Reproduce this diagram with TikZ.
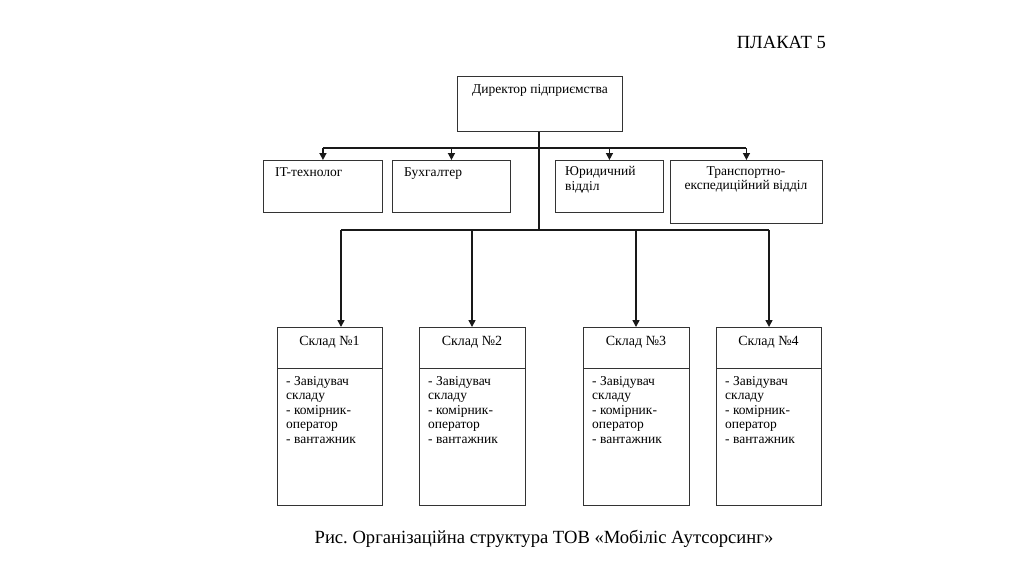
\documentclass[tikz,border=0pt]{standalone}
\usepackage{fontspec}
\setmainfont{Liberation Serif}
\usetikzlibrary{arrows.meta,calc}
\frenchspacing

\begin{document}
\begin{tikzpicture}[
  x=1pt, y=-1pt,
  box/.style={
    draw=black!80,
    line width=0.9pt,
    inner sep=0pt,
    anchor=north west
  },
  lbl/.style={
    font=\fontsize{13.5}{14.6}\selectfont,
    inner sep=0pt,
    align=left
  },
  link/.style={line width=1.5pt, draw=black!90},
  arr/.style={link, -{Triangle[length=7pt,width=7pt]}},
  title/.style={font=\fontsize{18.6}{21}\selectfont, inner sep=0pt}
]
\useasboundingbox (0,0) rectangle (1024,574);

% Poster number
\node[title, anchor=base east] (plakat) at (826,48) {ПЛАКАТ 5};

% Director
\node[box, minimum width=165pt, minimum height=55pt] (dir) at (457,76) {};
\node[lbl, anchor=base] (dirt) at (540,93) {Директор підприємства};

% Staff departments
\node[box, minimum width=119pt, minimum height=52pt] (it) at (263,160) {};
\node[lbl, anchor=base west] (itt) at (275,176) {IT-технолог};
\node[box, minimum width=118pt, minimum height=52pt] (buh) at (392,160) {};
\node[lbl, anchor=base west] (buht) at (404,176) {Бухгалтер};
\node[box, minimum width=108pt, minimum height=52pt] (jur) at (555,160) {};
\node[lbl, anchor=north west] (jurt) at (565,166) {Юридичний\\відділ};
\node[box, minimum width=152pt, minimum height=63pt] (trans) at (670,160) {};
\node[lbl, anchor=north, align=center] (transt) at (746,166) {Транспортно-\\експедиційний відділ};

% Trunk and branches
\coordinate (top) at (539,148);
\coordinate (low) at (539,230);
\draw[link] (dir.south -| top) -- (low);
\draw[link] (it.north |- top) -- (trans.north |- top);
\foreach \d in {it,buh,jur,trans}
  \draw[arr] (\d.north |- top) -- (\d.north);

% Warehouses
\draw[link] (341,230) -- (769,230);
\foreach \n/\l/\r/\a in {1/277/382/341, 2/419/525/472, 3/583/689/636, 4/716/821/769}{
  \node[box, minimum width={(\r-\l)*1pt}, minimum height=41pt] (s\n h) at (\l,327) {};
  \node[box, minimum width={(\r-\l)*1pt}, minimum height=137pt] (s\n b) at (\l,368) {};
  \node[lbl, font=\fontsize{14}{15}\selectfont, anchor=base] (s\n t) at ({(\l+\r)/2},345) {Склад №\n};
  \node[lbl, anchor=north west] (s\n l) at (\l+9,376) {- Завідувач\\складу\\- комірник-\\оператор\\- вантажник};
  \draw[arr] (\a,230) -- (\a,327);
}

% Caption
\node[title, anchor=base] (cap) at (544,543) {Рис. Організаційна структура ТОВ «Мобіліс Аутсорсинг»};
\end{tikzpicture}
\end{document}
